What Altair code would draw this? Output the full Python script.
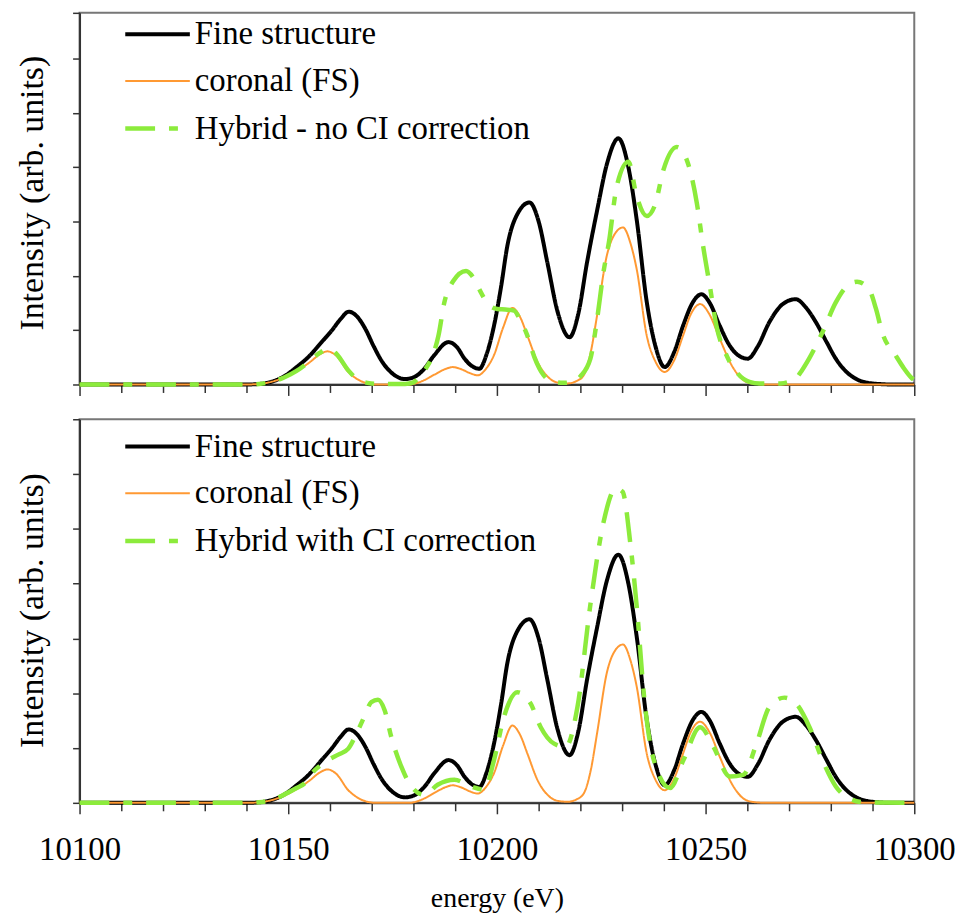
import altair as alt
import pandas as pd

# ---- data ----
# Fine structure (identical in both panels)
fs_e = [10100, 10140, 10143, 10146, 10149, 10152, 10155, 10158, 10160.5, 10162.5, 10164.5, 10166.5, 10168.5,
        10170.5, 10172.5, 10175, 10178, 10180.5, 10182.6, 10185, 10188.4, 10190.5, 10192.2, 10194, 10195.8,
        10197.5, 10199.3, 10201, 10202.5, 10205, 10207.8, 10210, 10212.1, 10214.5, 10217.4, 10219.5, 10221.6,
        10224, 10226.4, 10229.1, 10231.5, 10233.5, 10235.9, 10238, 10240.2, 10242.5, 10244.6, 10247, 10249,
        10251, 10253.4, 10255.5, 10257.3, 10260.1, 10262.5, 10265.3, 10268.5, 10271.6, 10274, 10276.4, 10279,
        10281.2, 10283.5, 10285.9, 10289.9, 10295, 10300]
fs_v = [0, 0, 0.01, 0.05, 0.15, 0.32, 0.52, 0.78, 1.0, 1.2, 1.34, 1.25, 1.02, 0.7, 0.42, 0.2, 0.1, 0.15, 0.29,
        0.54, 0.78, 0.68, 0.48, 0.34, 0.29, 0.55, 1.08, 1.8, 2.55, 3.15, 3.35, 3.0, 2.24, 1.35, 0.87, 1.3, 2.25,
        3.2, 4.07, 4.53, 4.0, 3.03, 1.52, 0.7, 0.32, 0.6, 1.08, 1.52, 1.66, 1.5, 1.08, 0.75, 0.57, 0.475, 0.7,
        1.15, 1.48, 1.57, 1.42, 1.15, 0.78, 0.475, 0.25, 0.11, 0.02, 0, 0]

# coronal (FS) (identical in both panels)
cor_e = [10100, 10140, 10143, 10146, 10149, 10152, 10155, 10157.5, 10159.4, 10161.5, 10164.4, 10166.5, 10168.5,
         10171, 10179, 10181, 10182.6, 10185, 10187.5, 10189.4, 10191.5, 10193.5, 10195.4, 10197.5, 10199.3,
         10201.5, 10203.7, 10205.5, 10207.3, 10209.7, 10212.8, 10215, 10217, 10219, 10220.8, 10222.5, 10224,
         10226.3, 10228.5, 10230.2, 10232, 10233.5, 10235.9, 10238, 10240.2, 10242.5, 10244.6, 10246.5, 10248.7,
         10251, 10253.4, 10256.5, 10259.7, 10262, 10265, 10300]
cor_v = [0, 0, 0.01, 0.05, 0.13, 0.25, 0.4, 0.55, 0.61, 0.53, 0.23, 0.1, 0.03, 0, 0, 0.03, 0.08, 0.18, 0.28, 0.32,
         0.28, 0.21, 0.17, 0.3, 0.54, 1.05, 1.41, 1.25, 0.9, 0.42, 0.1, 0.03, 0.02, 0.06, 0.17, 0.6, 1.27, 2.36,
         2.8, 2.89, 2.6, 2.12, 0.9, 0.42, 0.23, 0.45, 0.9, 1.3, 1.48, 1.28, 0.84, 0.32, 0.05, 0.01, 0, 0]

# Hybrid - no CI correction (top panel)
hn_e = [10100, 10140, 10143, 10146, 10149, 10152, 10155, 10157.5, 10159.8, 10161.5, 10164.4, 10166.5, 10169,
        10172, 10178, 10180, 10181.5, 10183, 10184.3, 10186, 10187.4, 10189.5, 10192.6, 10194.5, 10196.2, 10198,
        10200.1, 10202, 10204.1, 10205.5, 10207.3, 10209, 10211.2, 10213, 10216, 10218.5, 10220, 10222.4, 10224,
        10225.6, 10226.8, 10228.7, 10231.5, 10233.5, 10235.9, 10237.9, 10239.9, 10243.1, 10245.5, 10247.9,
        10249.4, 10251, 10252.6, 10255, 10257.4, 10260.5, 10263, 10268, 10270, 10271.6, 10273, 10274.8, 10278,
        10281.2, 10283.5, 10286.3, 10289.1, 10290.8, 10292.3, 10295.5, 10297.5, 10299.5, 10300]
hn_v = [0, 0, 0.01, 0.05, 0.13, 0.25, 0.42, 0.58, 0.66, 0.57, 0.26, 0.1, 0.03, 0.01, 0.01, 0.04, 0.15, 0.3, 0.475,
        0.9, 1.51, 1.9, 2.09, 1.95, 1.69, 1.47, 1.39, 1.38, 1.36, 1.2, 0.9, 0.5, 0.17, 0.06, 0.03, 0.06, 0.15,
        0.475, 1.2, 2.1, 2.6, 3.64, 4.10, 3.46, 3.10, 3.31, 3.95, 4.37, 4.13, 3.34, 2.55, 1.82, 1.08, 0.54, 0.23,
        0.05, 0.02, 0.02, 0.05, 0.11, 0.25, 0.475, 0.96, 1.51, 1.78, 1.89, 1.76, 1.4, 0.96, 0.54, 0.3, 0.11, 0.08]

# Hybrid with CI correction (bottom panel)
hc_e = [10100, 10140, 10143, 10146, 10149, 10152, 10154, 10156.4, 10158, 10160, 10162, 10164.4, 10166.7, 10168.4,
        10169.9, 10171.5, 10173.1, 10174.7, 10177.1, 10179.5, 10182.6, 10185.8, 10189.8, 10193.8, 10197, 10199.3,
        10201.7, 10204.9, 10208.1, 10210.5, 10213.7, 10216.5, 10219.3, 10222.4, 10225.6, 10228.5, 10230.1, 10232,
        10233.6, 10235.2, 10237.6, 10241.5, 10244.7, 10248.7, 10251.9, 10255.8, 10259, 10262.2, 10265.3, 10268.9,
        10271.7, 10274.9, 10278, 10281.2, 10284.4, 10288, 10300]
hc_v = [0, 0, 0.01, 0.05, 0.15, 0.27, 0.36, 0.6, 0.7, 0.8, 0.88, 0.99, 1.32, 1.6, 1.84, 1.88, 1.69, 1.2, 0.66, 0.3,
        0.145, 0.33, 0.42, 0.30, 0.24, 0.78, 1.57, 2.02, 1.81, 1.38, 1.08, 1.02, 1.75, 3.62, 5.14, 5.74, 5.68,
        4.71, 3.50, 1.99, 0.78, 0.27, 0.78, 1.38, 1.02, 0.48, 0.51, 1.08, 1.75, 1.92, 1.81, 1.38, 0.78, 0.30,
        0.08, 0.01, 0]

names_top = ["Fine structure", "coronal (FS)", "Hybrid - no CI correction"]
names_bot = ["Fine structure", "coronal (FS)", "Hybrid with CI correction"]
x_ticks = [10100, 10110, 10120, 10130, 10140, 10150, 10160, 10170, 10180, 10190, 10200,
           10210, 10220, 10230, 10240, 10250, 10260, 10270, 10280, 10290, 10300]
x_domain = [10100, 10300]

COLORS = ["#000000", "#FF9933", "#8CEB3C"]
DASHES = [[1, 0], [1, 0], [30, 14, 9, 14]]
WIDTHS = [4, 2, 4.5]
FONT = "Liberation Serif"


def frame(names, series):
    rows = []
    for name, (es, vs) in zip(names, series):
        for e, v in zip(es, vs):
            rows.append({"series": name, "E": e, "v": v})
    return pd.DataFrame(rows)


def panel(df, names, h, ydom, yvals, bottom, legend_y, title_y):
    leg = alt.Legend(title=None, orient="none", legendX=60, legendY=legend_y,
                     symbolType="M-2,0L2,0", symbolSize=1056, symbolFillColor="transparent",
                     labelFont=FONT, labelFontSize=33, labelColor="black", labelLimit=900,
                     labelOffset=19, rowPadding=12, padding=0)
    x = alt.X("E:Q", scale=alt.Scale(domain=x_domain, nice=False, zero=False),
              axis=alt.Axis(values=x_ticks, format="d",
                            tickSize={"condition": {"test": "datum.value % 50 === 0", "value": 11}, "value": 8},
                            labels=bottom,
                            labelExpr="datum.value % 50 === 0 ? datum.label : ''",
                            labelFont=FONT, labelColor="black",
                            labelFlush=False, labelOverlap=False, labelFontSize=33, labelPadding=20,
                            title="energy (eV)" if bottom else None, titleFont=FONT,
                            titleFontSize=28, titlePadding=18))
    y = alt.Y("v:Q", scale=alt.Scale(domain=ydom, nice=False, zero=False),
              axis=alt.Axis(values=yvals, labels=False, tickSize=7, title="Intensity (arb. units)",
                            titleFont=FONT, titleFontSize=34, titlePadding=23, titleY=title_y))
    color = alt.Color("series:N", scale=alt.Scale(domain=names, range=COLORS), legend=leg)
    dash = alt.StrokeDash("series:N", scale=alt.Scale(domain=names, range=DASHES), legend=leg)
    width = alt.StrokeWidth("series:N", scale=alt.Scale(type="ordinal", domain=names, range=WIDTHS),
                            legend=leg)
    base = alt.Chart(df).mark_line(interpolate="monotone", strokeCap="butt").encode(
        x=x, y=y, color=color, strokeDash=dash, strokeWidth=width)
    layers = [base.transform_filter(alt.datum.series == n) for n in names]
    return alt.layer(*layers).properties(width=840, height=h)


top_df = frame(names_top, [(fs_e, fs_v), (cor_e, cor_v), (hn_e, hn_v)])
bot_df = frame(names_bot, [(fs_e, fs_v), (cor_e, cor_v), (hc_e, hc_v)])

top = panel(top_df, names_top, 374, [0, 6.84], [0, 1, 2, 3, 4, 5, 6, 6.84], False, 3, 181)
bot = panel(bot_df, names_bot, 386, [0, 7], [0, 1, 2, 3, 4, 5, 6, 7], True, 9, 192)

chart = alt.vconcat(top, bot, spacing=20).resolve_scale(
    color="independent", strokeDash="independent", strokeWidth="independent", x="independent", y="independent"
).properties(
    padding={"left": 6, "top": 0, "right": 0, "bottom": 0}, background="white"
).configure_view(stroke="#777777", strokeWidth=2).configure_axis(
    grid=False, domainColor="#333333", domainWidth=2, tickColor="#333333", tickWidth=1.5,
    labelFont=FONT, titleFont=FONT, labelColor="black", titleColor="black", titleFontWeight="normal"
)

chart.save("out.html", embed_options={"renderer": "svg", "actions": False})
